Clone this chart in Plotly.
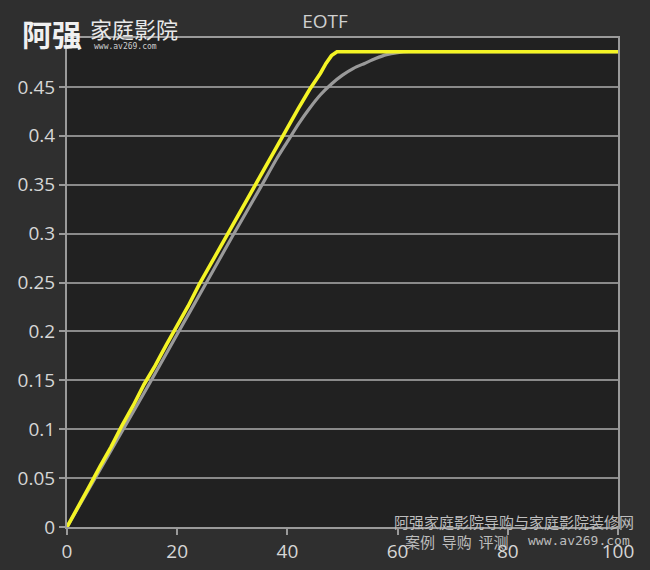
import plotly.graph_objects as go

# Measured (yellow) series
meas_x = [0, 2, 4, 6, 8, 10, 12, 14, 16, 18, 20, 22, 24, 26, 28, 30, 32, 34, 36, 38,
          40, 42, 44, 45, 46, 47, 48, 49, 50, 60, 70, 80, 90, 100]
meas_y = [0, 0.020, 0.041, 0.062, 0.082, 0.104, 0.124, 0.146, 0.165, 0.186, 0.206,
          0.226, 0.248, 0.268, 0.289, 0.309, 0.329, 0.348, 0.369, 0.389, 0.408,
          0.428, 0.447, 0.455, 0.464, 0.474, 0.482, 0.486, 0.486, 0.486, 0.486,
          0.486, 0.486, 0.486]

# Target (gray) series
target_x = [0, 5, 10, 15, 20, 25, 30, 35, 38, 40, 42, 44, 46, 48, 50, 52, 54, 56,
            58, 60, 62, 70, 80, 90, 100]
target_y = [0, 0.049, 0.098, 0.147, 0.197, 0.247, 0.297, 0.346, 0.376, 0.394, 0.412,
            0.428, 0.442, 0.453, 0.462, 0.469, 0.474, 0.479, 0.483, 0.485, 0.486,
            0.486, 0.486, 0.486, 0.486]

x_ticks = [0, 20, 40, 60, 80, 100]
y_ticks = [0, 0.05, 0.1, 0.15, 0.2, 0.25, 0.3, 0.35, 0.4, 0.45]
y_labels = ["0", "0.05", "0.1", "0.15", "0.2", "0.25", "0.3", "0.35", "0.4", "0.45"]

W, H = 650, 570
ML, MR, MT, MB = 67, 32, 38, 43
PW, PH = W - ML - MR, H - MT - MB


def px_to_paper(px, py):
    return (px - ML) / PW, (H - MB - py) / PH


fig = go.Figure()
fig.add_trace(go.Scatter(x=target_x, y=target_y, mode="lines",
                         line=dict(color="#9a9a9a", width=3.2, shape="spline", smoothing=0.6),
                         showlegend=False, hoverinfo="skip"))
fig.add_trace(go.Scatter(x=meas_x, y=meas_y, mode="lines",
                         line=dict(color="#f4f425", width=3.6),
                         showlegend=False, hoverinfo="skip"))

font_family = "Open Sans, Noto Sans, sans-serif"

ann_specs = [
    ("<b>阿强</b>", 20, 33, "Noto Sans CJK SC", 30, "#f0f0f0", "left"),
    ("家庭影院", 88, 28, "Noto Sans CJK SC", 22, "#e8e8e8", "left"),
    ("www.av269.com", 92, 46, "DejaVu Sans Mono", 8, "#cfcfcf", "left"),
    ("阿强家庭影院导购与家庭影院装修网", 636, 521, "Noto Sans CJK SC", 15, "#bdbdbd", "right"),
    ("案例  导购  评测", 403, 541, "Noto Sans CJK SC", 15, "#bdbdbd", "left"),
    ("www.av269.com", 632, 540, "DejaVu Sans Mono", 13, "#bdbdbd", "right"),
]
annotations = []
for text, px, py, fam, size, col, anchor in ann_specs:
    ax, ay = px_to_paper(px, py)
    annotations.append(dict(text=text, x=ax, y=ay, xref="paper", yref="paper",
                            showarrow=False, font=dict(family=fam, size=size, color=col),
                            xanchor=anchor, yanchor="middle"))

fig.update_layout(
    width=W, height=H,
    margin=dict(l=ML, r=MR, t=MT, b=MB, autoexpand=False),
    paper_bgcolor="#2f2f2f",
    plot_bgcolor="#212121",
    title=dict(text="EOTF", x=0.5, xanchor="center", y=1 - 21 / H, yanchor="middle",
               font=dict(family=font_family, size=19, color="#d0d0d0")),
    xaxis=dict(range=[0, 100], tickvals=x_ticks, showgrid=False, zeroline=False,
               showline=True, linecolor="#9a9a9a", linewidth=2, mirror=True,
               ticks="outside", ticklen=6, tickwidth=2, tickcolor="#9a9a9a",
               tickfont=dict(family=font_family, size=19, color="#d6d6d6")),
    yaxis=dict(range=[0, 0.5], tickvals=y_ticks, ticktext=y_labels, showgrid=True,
               gridcolor="#8a8a8a", gridwidth=2, zeroline=False,
               showline=True, linecolor="#9a9a9a", linewidth=2, mirror=True,
               ticks="outside", ticklen=6, tickwidth=2, tickcolor="#9a9a9a",
               tickfont=dict(family=font_family, size=19, color="#d6d6d6")),
    annotations=annotations,
)

fig.write_html("out.html", config={"displayModeBar": False})
with open("out.html", "r", encoding="utf-8") as f:
    html = f.read()
html = html.replace("<body>", '<body style="margin:0;padding:0;background:#2f2f2f">', 1)
with open("out.html", "w", encoding="utf-8") as f:
    f.write(html)
